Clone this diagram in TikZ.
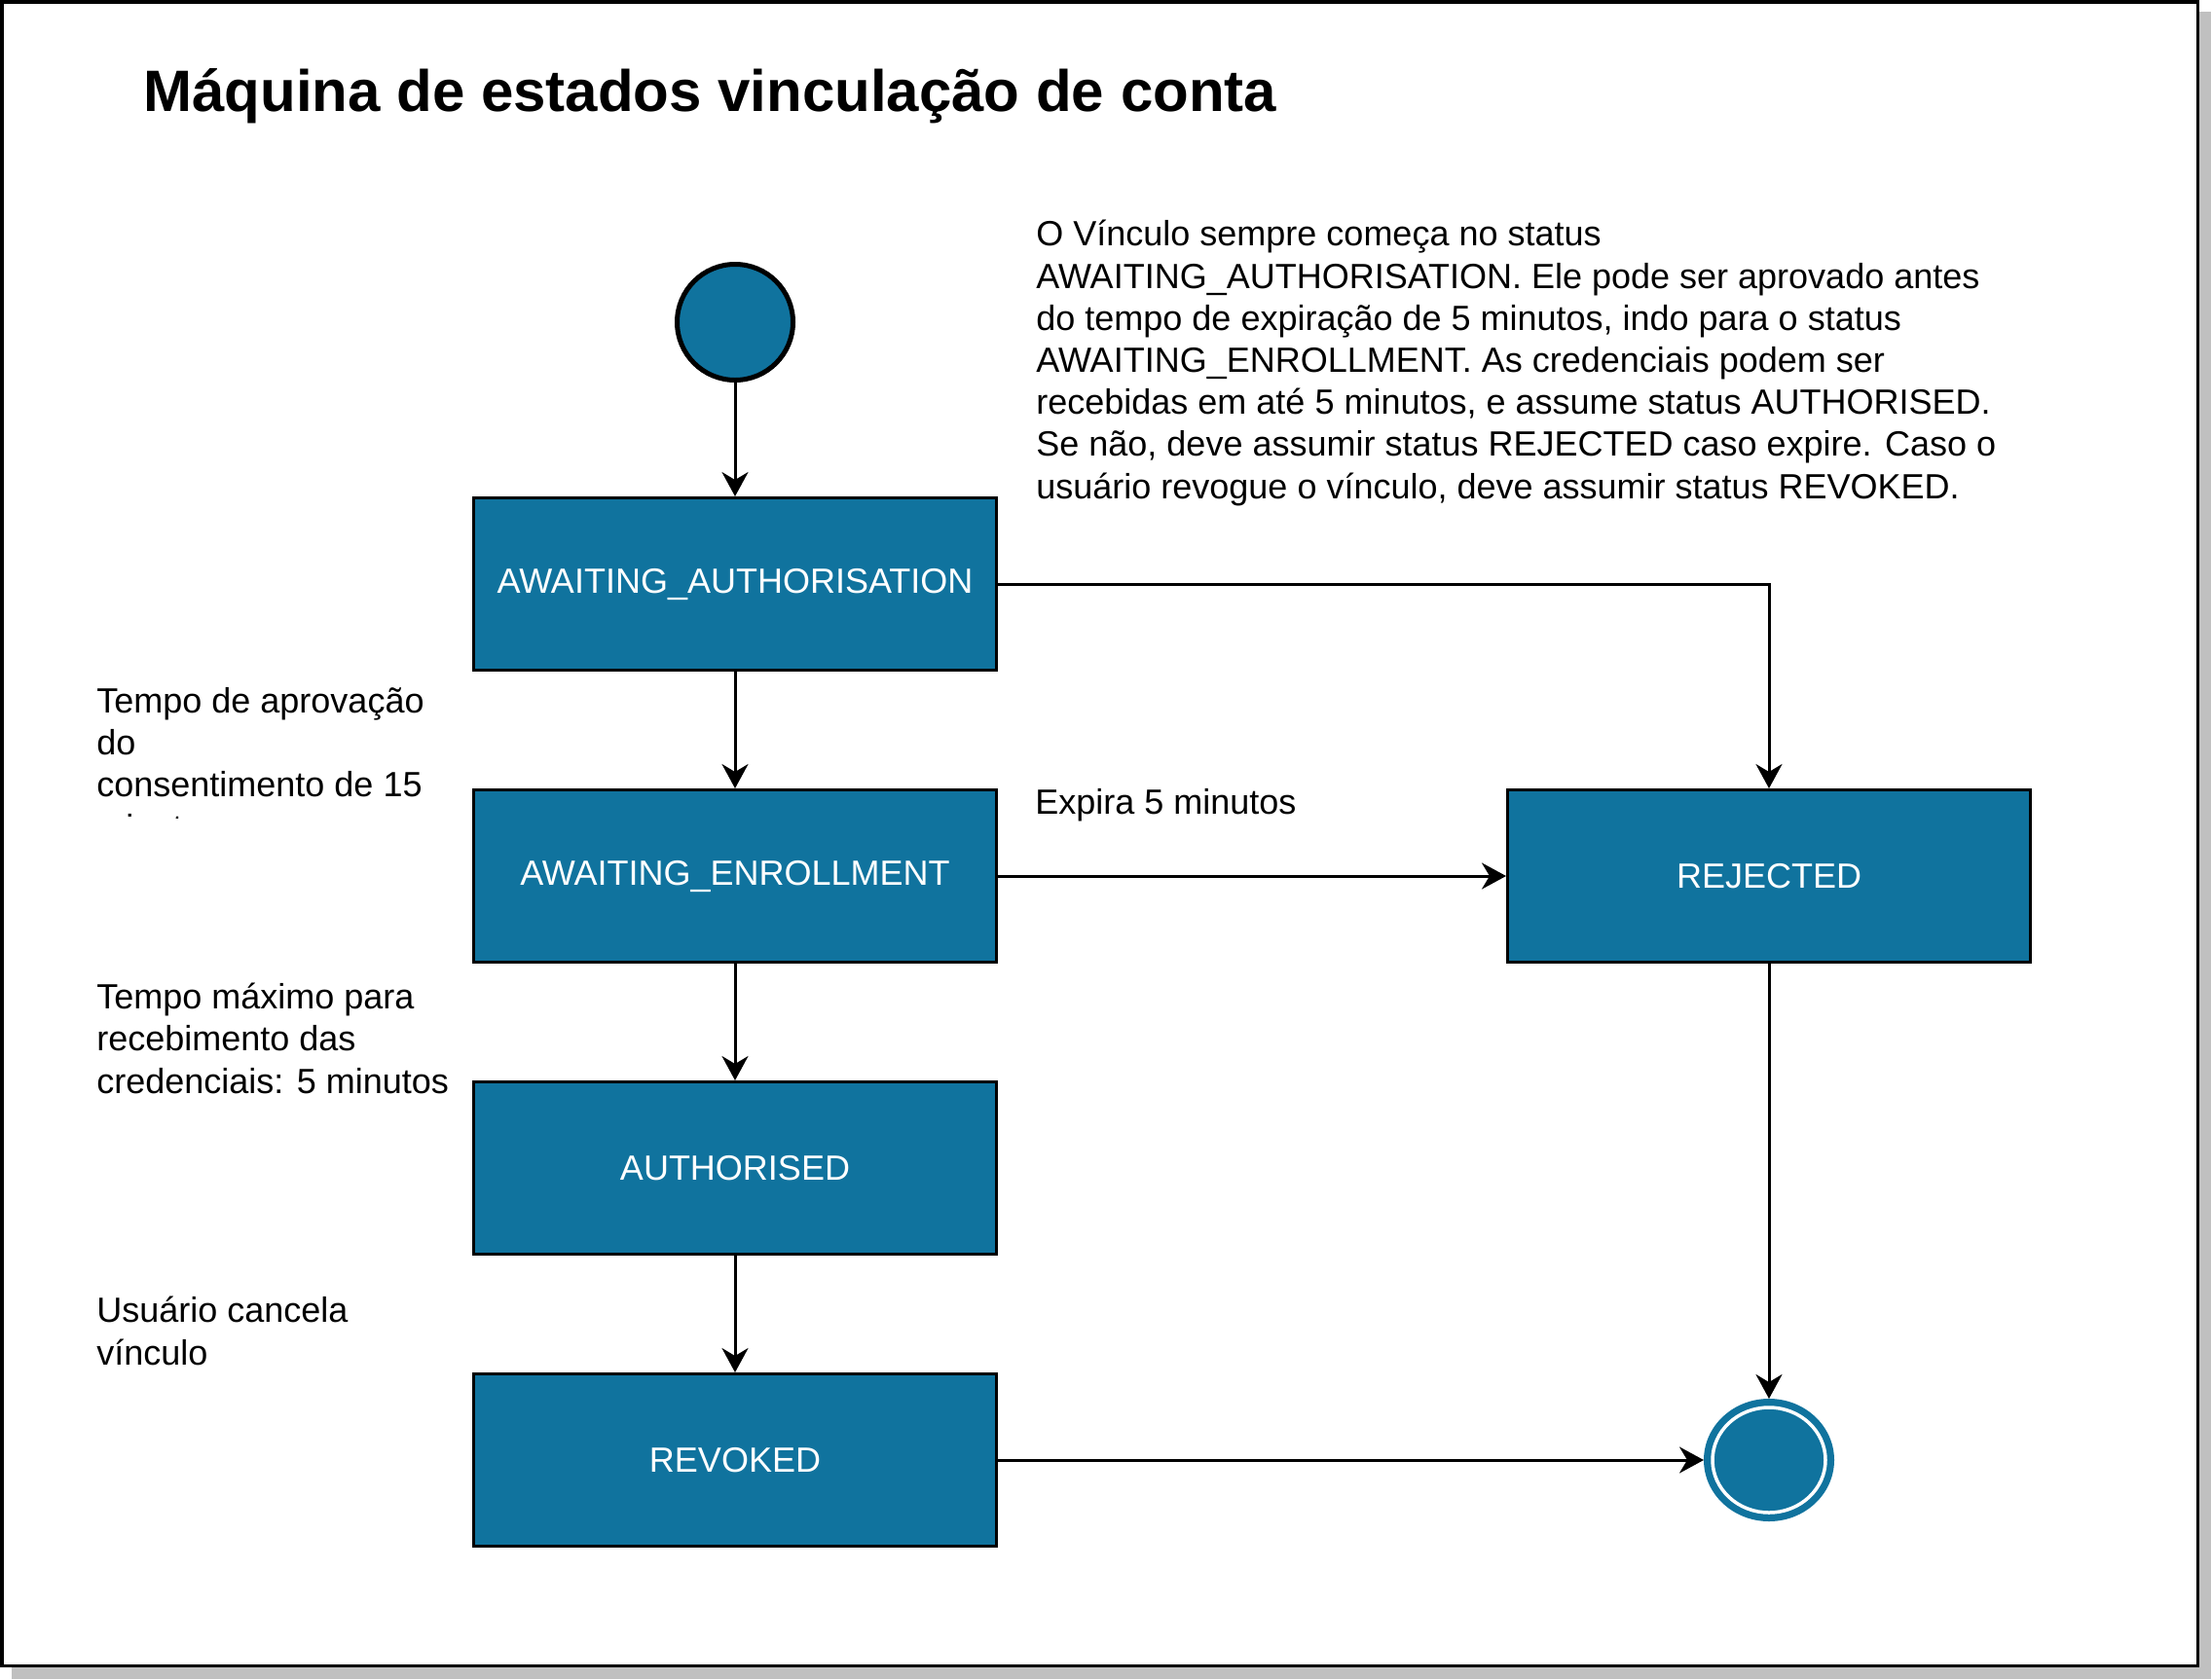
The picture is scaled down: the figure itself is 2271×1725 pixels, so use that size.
\documentclass[tikz,border=0pt]{standalone}
\usepackage{fontspec}
\setmainfont{Liberation Sans}
\usepackage{xcolor}
\usepackage{tikz}
\usetikzlibrary{arrows.meta,positioning,shapes.geometric}

\definecolor{stateblue}{HTML}{10739E}
\definecolor{shadowgray}{HTML}{C0C0C0}

\tikzset{
	statebox/.style={rectangle,draw=black,line width=1.5pt,fill=stateblue,text=white,
		minimum width=268.5pt,minimum height=88.5pt,inner sep=0pt,
		font=\fontsize{18}{21.6}\selectfont},
	startdot/.style={circle,draw=black,line width=2.5pt,fill=stateblue,minimum size=59.5pt,inner sep=0pt},
	enddot/.style={ellipse,draw=stateblue,line width=1pt,fill=stateblue,minimum width=66pt,minimum height=62pt,inner sep=0pt,
		path picture={\draw[white,line width=1.75pt] (path picture bounding box.center) ellipse [x radius=29pt,y radius=27pt];}},
	note/.style={anchor=base west,inner sep=0pt,align=left,font=\fontsize{18}{21.6}\selectfont},
	arr/.style={-{Stealth[length=12.5pt,width=13.5pt,inset=4pt]},line width=1.5pt},
}

\begin{document}
\begin{tikzpicture}[x=0.5pt,y=-0.5pt]
	\useasboundingbox (0,0) rectangle (2271,1725);
	% frame with shadow
	\fill[shadowgray] (12,12) rectangle (2271,1725);
	\draw[fill=white,line width=1.75pt] (1.75,1.75) rectangle (2257.5,1711.5);
	% title
	\node[anchor=base west,inner sep=0pt,font=\fontsize{30}{36}\selectfont\bfseries] (title) at (147,114) {Máquina de estados vinculação de conta};
	% states
	\node[startdot] (start) at (755,331) {};
	\node[statebox,below=58.5pt of start] (aa) {AWAITING\_AUTHORISATION};
	\node[statebox,below=60pt of aa] (ae) {AWAITING\_ENROLLMENT};
	\node[statebox,below=60pt of ae] (auth) {AUTHORISED};
	\node[statebox,below=60pt of auth] (rev) {REVOKED};
	\node[statebox,right=261pt of ae] (rej) {REJECTED};
	\node[enddot] (fin) at (rej |- rev) {};
	% transitions
	\draw[arr] (start) -- (aa);
	\draw[arr] (aa) -- (ae);
	\draw[arr] (ae) -- (auth);
	\draw[arr] (auth) -- (rev);
	\draw[arr] (aa.east) -| (rej.north);
	\draw[arr] (ae.east) -- (rej.west);
	\draw[arr] (rej.south) -- (fin.north);
	\draw[arr] (rev.east) -- (fin.west);
	% notes (placed at the baseline of their last line)
	\node[note] (desc) at (1064,512) {O Vínculo sempre começa no status\\
		AWAITING\_AUTHORISATION. Ele pode ser aprovado antes\\
		do tempo de expiração de 5 minutos, indo para o status\\
		AWAITING\_ENROLLMENT. As credenciais podem ser\\
		recebidas em até 5 minutos, e assume status AUTHORISED.\\
		Se não, deve assumir status REJECTED caso expire. Caso o\\
		usuário revogue o vínculo, deve assumir status REVOKED.};
	\begin{scope}
		\clip (0,600) rectangle (480,840);
		\node[note] (approval) at (99,862) {Tempo de aprovação\\do\\consentimento de 15\\minutos};
	\end{scope}
	\node[note] (expire) at (1063,836) {Expira 5 minutos};
	\node[note] (maxtime) at (99,1123) {Tempo máximo para\\recebimento das\\credenciais: 5 minutos};
	\node[note] (cancel) at (99,1402) {Usuário cancela\\vínculo};
\end{tikzpicture}
\end{document}
